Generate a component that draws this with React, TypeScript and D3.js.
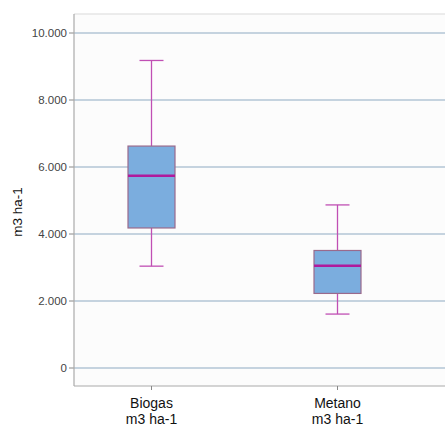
import React from "react";
import * as d3 from "d3";

const categories = ["Biogas", "Metano"];
const unitLabel = "m3 ha-1";
const whiskerLow = [3040, 1610];
const q1 = [4180, 2226];
const median = [5740, 3050];
const q3 = [6625, 3508];
const whiskerHigh = [9180, 4868];
const yTicks = [0, 2000, 4000, 6000, 8000, 10000];

const W = 445, H = 427;
const left = 74, top = 14, bottom = 386;

export default function App() {
  const y = d3.scaleLinear().domain([0, 10000]).range([368, 33]);
  const x = d3.scalePoint<string>().domain(categories).range([151.5, 337.5]);
  const fmt = (v: number) => (v === 0 ? "0" : d3.format(",.3f")(v / 1000).replace(/,/g, ""));
  const boxW = 47, capW = 24;
  return (
    <svg width={W} height={H} style={{ position: "absolute", left: 0, top: 0, fontFamily: "Liberation Sans, Arial, sans-serif" }}>
      <rect x={0} y={0} width={W} height={H} fill="#fff" />
      <rect x={left} y={top} width={W - left} height={bottom - top} fill="#fcfcfc" />
      <line x1={left} x2={W} y1={top} y2={top} stroke="#e6e6e6" strokeWidth={1.5} />
      {yTicks.map((t) => (
        <g key={t}>
          <line x1={left} x2={W} y1={y(t)} y2={y(t)} stroke="#b3c6d6" strokeWidth={1.3} />
          <line x1={left - 5} x2={left} y1={y(t)} y2={y(t)} stroke="#888" />
          <text x={left - 7} y={y(t)} dy="0.35em" textAnchor="end" fontSize={11.5} fill="#444">
            {fmt(t)}
          </text>
        </g>
      ))}
      <line x1={left} x2={left} y1={top} y2={bottom} stroke="#aaa" strokeWidth={1.2} />
      <line x1={left} x2={W} y1={bottom} y2={bottom} stroke="#aaa" strokeWidth={1.2} />
      <text transform={`translate(22,${(top + bottom) / 2 + 12}) rotate(-90)`} textAnchor="middle" fontSize={13.5} fill="#111">
        {unitLabel}
      </text>
      {categories.map((c, i) => {
        const cx = x(c)!;
        return (
          <g key={c}>
            <line x1={cx} x2={cx} y1={bottom} y2={bottom + 4} stroke="#888" />
            <text x={cx} y={408} textAnchor="middle" fontSize={14} fill="#111">{c}</text>
            <text x={cx} y={423.5} textAnchor="middle" fontSize={14} fill="#111">{unitLabel}</text>
            <line x1={cx} x2={cx} y1={y(whiskerHigh[i])} y2={y(q3[i])} stroke="#c04fb4" strokeWidth={1.3} />
            <line x1={cx} x2={cx} y1={y(q1[i])} y2={y(whiskerLow[i])} stroke="#c04fb4" strokeWidth={1.3} />
            <line x1={cx - capW / 2} x2={cx + capW / 2} y1={y(whiskerHigh[i])} y2={y(whiskerHigh[i])} stroke="#c04fb4" strokeWidth={1.3} />
            <line x1={cx - capW / 2} x2={cx + capW / 2} y1={y(whiskerLow[i])} y2={y(whiskerLow[i])} stroke="#c04fb4" strokeWidth={1.3} />
            <rect x={cx - boxW / 2} y={y(q3[i])} width={boxW} height={y(q1[i]) - y(q3[i])} fill="#7badde" stroke="#9a6a8c" strokeWidth={1.2} />
            <line x1={cx - boxW / 2} x2={cx + boxW / 2} y1={y(median[i])} y2={y(median[i])} stroke="#b01a9c" strokeWidth={2.5} />
          </g>
        );
      })}
    </svg>
  );
}
